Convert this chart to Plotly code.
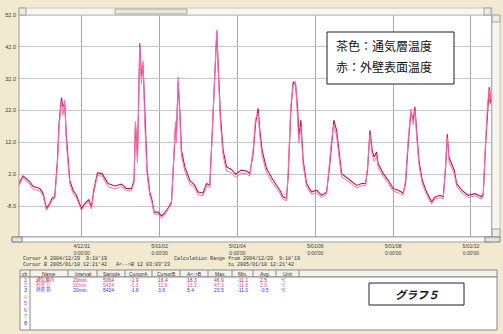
import plotly.graph_objects as go

# ---------------- data ----------------
times = [
"2004-12-29 09:18","2004-12-29 11:47","2004-12-29 15:55","2004-12-29 17:57","2004-12-29 22:05",
"2004-12-30 00:07","2004-12-30 02:14","2004-12-30 04:15","2004-12-30 05:41","2004-12-30 07:20",
"2004-12-30 09:00","2004-12-30 09:59","2004-12-30 11:28","2004-12-30 12:27","2004-12-30 13:30",
"2004-12-30 14:34","2004-12-30 16:36","2004-12-30 18:38","2004-12-30 20:43","2004-12-30 23:49",
"2004-12-31 01:51","2004-12-31 04:19","2004-12-31 05:59","2004-12-31 07:24","2004-12-31 09:41",
"2004-12-31 12:32","2004-12-31 16:14","2004-12-31 20:21","2005-01-01 00:30","2005-01-01 03:35",
"2005-01-01 06:40","2005-01-01 08:15","2005-01-01 09:07","2005-01-01 10:22","2005-01-01 11:47",
"2005-01-01 12:50","2005-01-01 13:49","2005-01-01 14:53","2005-01-01 16:18","2005-01-01 17:57",
"2005-01-01 19:22","2005-01-01 20:37","2005-01-01 23:04","2005-01-02 01:10","2005-01-02 02:47",
"2005-01-02 05:41","2005-01-02 07:20","2005-01-02 08:57","2005-01-02 09:49","2005-01-02 10:25",
"2005-01-02 11:25","2005-01-02 12:28","2005-01-02 13:31","2005-01-02 15:33","2005-01-02 18:38",
"2005-01-02 21:43","2005-01-02 23:45","2005-01-03 02:50","2005-01-03 04:56","2005-01-03 06:58",
"2005-01-03 08:24","2005-01-03 10:03","2005-01-03 11:17","2005-01-03 12:06","2005-01-03 13:35",
"2005-01-03 15:10","2005-01-03 17:17","2005-01-03 20:21","2005-01-03 22:49","2005-01-04 02:31",
"2005-01-04 05:37","2005-01-04 07:39","2005-01-04 09:42","2005-01-04 11:10","2005-01-04 12:46",
"2005-01-04 13:49","2005-01-04 15:14","2005-01-04 17:57","2005-01-04 22:02","2005-01-05 02:10",
"2005-01-05 04:12","2005-01-05 06:17","2005-01-05 07:16","2005-01-05 08:57","2005-01-05 10:22",
"2005-01-05 11:51","2005-01-05 13:05","2005-01-05 13:52","2005-01-05 15:07","2005-01-05 16:32",
"2005-01-05 18:38","2005-01-05 21:43","2005-01-06 00:48","2005-01-06 03:53","2005-01-06 06:58",
"2005-01-06 09:00","2005-01-06 10:03","2005-01-06 11:28","2005-01-06 13:09","2005-01-06 14:34",
"2005-01-06 16:14","2005-01-06 20:18","2005-01-07 01:29","2005-01-07 04:34","2005-01-07 07:02",
"2005-01-07 08:15","2005-01-07 09:42","2005-01-07 11:07","2005-01-07 12:20","2005-01-07 13:49",
"2005-01-07 14:48","2005-01-07 17:54","2005-01-07 20:59","2005-01-08 00:04","2005-01-08 03:09",
"2005-01-08 06:14","2005-01-08 07:42","2005-01-08 09:19","2005-01-08 10:59","2005-01-08 12:24",
"2005-01-08 13:26","2005-01-08 14:30","2005-01-08 15:55","2005-01-08 17:57","2005-01-08 20:40",
"2005-01-08 23:45","2005-01-09 01:48","2005-01-09 04:52","2005-01-09 06:55","2005-01-09 08:24",
"2005-01-09 09:23","2005-01-09 10:25","2005-01-09 12:06","2005-01-09 13:42","2005-01-09 15:10",
"2005-01-09 18:16","2005-01-09 22:20","2005-01-10 02:28","2005-01-10 06:36","2005-01-10 07:35",
"2005-01-10 09:04","2005-01-10 10:18","2005-01-10 11:17","2005-01-10 11:54","2005-01-10 12:21",
]

air_layer = [  # 茶色：通気層温度
-0.9,1.5,-0.4,-1.8,-2.5,
-3.9,-8.7,-7.2,-5.5,-5.1,
6.4,17.9,26.1,23.2,24.2,
13.7,0.1,-3.0,-4.6,-8.8,
-7.2,-6.0,-8.3,-3.0,2.4,
2.2,-0.9,-1.7,-1.1,-2.5,
-2.5,0.1,17.9,7.4,43.1,
32.6,36.3,20.0,3.3,-3.6,
-6.2,-9.9,-9.9,-11.1,-10.4,
-8.3,-6.7,8.5,16.9,14.8,
31.0,22.1,9.5,4.3,0.1,
-1.5,-3.6,-3.9,-0.9,-1.5,
13.7,32.6,46.9,36.8,20.0,
9.5,4.3,3.5,2.0,3.3,
3.0,2.2,8.5,17.9,22.7,
15.8,9.5,3.8,0.1,-3.0,
-5.1,-5.6,1.2,22.1,31.0,
30.0,23.2,13.7,19.0,6.4,
-0.9,-3.6,-3.0,-4.6,-3.6,
5.3,11.6,19.0,15.8,9.5,
2.2,0.6,-1.5,-0.9,-0.9,
3.3,15.8,9.5,7.4,9.0,
5.3,2.2,0.1,-2.5,-3.0,
-3.9,-0.9,11.6,21.6,19.0,
23.2,15.8,6.4,0.1,-3.6,
-6.7,-5.1,-4.6,-5.1,4.3,
14.6,7.4,5.3,3.3,-0.9,
-3.0,-4.6,-4.1,-5.1,-4.1,
11.6,23.2,29.4,24.2,27.5,
]

wall_surface = [  # 赤：外壁表面温度
-1.6,0.8,-1.2,-2.6,-3.3,
-4.6,-9.3,-7.8,-6.1,-5.6,
5.0,16.5,25.0,20.5,25.2,
11.5,-1.0,-4.0,-5.4,-9.4,
-7.8,-6.7,-8.9,-3.9,1.6,
1.4,-1.9,-2.6,-1.9,-3.2,
-3.2,-0.6,18.6,5.5,42.0,
30.5,37.5,17.8,1.8,-4.6,
-7.0,-10.5,-10.6,-11.8,-11.0,
-8.9,-7.3,9.8,18.5,12.0,
32.5,20.0,7.6,3.0,-1.0,
-2.4,-4.4,-4.7,-1.6,-2.2,
15.0,34.0,47.3,35.0,17.5,
7.8,3.0,2.4,1.0,2.4,
2.1,1.4,9.8,19.5,21.2,
13.8,7.8,2.5,-1.0,-4.0,
-5.9,-6.3,2.5,23.5,30.0,
31.2,21.0,11.8,17.0,4.8,
-1.9,-4.4,-3.8,-5.3,-4.3,
6.5,12.8,17.5,14.0,7.8,
1.2,-0.3,-2.3,-1.6,-1.6,
4.5,14.5,8.0,6.0,7.6,
4.0,1.2,-0.8,-3.3,-3.8,
-4.6,0.4,13.0,22.5,17.5,
22.0,14.0,5.0,-0.9,-4.4,
-7.4,-5.8,-5.3,-5.8,5.5,
13.5,6.0,4.2,2.2,-1.8,
-3.8,-5.3,-4.8,-5.8,-4.8,
13.0,24.5,28.5,25.5,28.8,
]

x_start = "2004-12-29 09:18:19"
x_end = "2005-01-10 12:21:42"
x_tick_vals = ["2004-12-31","2005-01-02","2005-01-04","2005-01-06","2005-01-08","2005-01-10"]
x_tick_text = ["4/12/31<br>0:00'00","5/01/02<br>0:00'00","5/01/04<br>0:00'00",
               "5/01/06<br>0:00'00","5/01/08<br>0:00'00","5/01/10<br>0:00'00"]
y_tick_vals = [-8, 2, 12, 22, 32, 42, 52]
y_tick_text = ["-8.0", "2.0", "12.0", "22.0", "32.0", "42.0", "52.0"]

legend_lines = ["茶色：通気層温度", "赤：外壁表面温度"]
graph_title = "グラフ５"

table_headers = ["ch","Name","Interval","Sample","CursorA","CursorB","A<->B","Max.","Min.","Avg.","Unit"]
table_rows = [
    ["通気層内", "20min.", "5064", "-1.9", "16.4", "18.3", "46.9", "-11.1", "2.5", "℃"],
    ["外壁 日",  "20min.", "5424", "-1.3", "11.9", "13.2", "47.3", "-11.8", "2.0", "℃"],
    ["外壁 影",  "20min.", "5424", "-1.8", "3.6",  "5.4",  "23.5", "-11.0", "-0.5", "℃"],
]
ch_labels = ["1","2","3","4","5","6","7","8"]

# ---------------- layout helpers ----------------
W, H = 503, 334
def px(x): return x / W
def py(y): return 1 - y / H

BG = "#f1ead0"
DARK = "#c3124d"
PINK = "#ff6db3"
ch_colors = ["#a8303c","#ff3c96","#3434ff","#ff9a00","#ff30c0","#ff4060","#20a020","#3030ff"]

fig = go.Figure()
fig.add_trace(go.Scatter(x=times, y=air_layer, mode="lines",
                         line=dict(color=DARK, width=1.1), showlegend=False))
fig.add_trace(go.Scatter(x=times, y=wall_surface, mode="lines",
                         line=dict(color=PINK, width=1.0), showlegend=False))

tick_font = dict(family="Liberation Sans", size=5, color="#383838")
fig.update_layout(
    width=W, height=H, margin=dict(l=0, r=0, t=0, b=0),
    paper_bgcolor=BG, plot_bgcolor="white", showlegend=False,
    xaxis=dict(type="date", range=[x_start, x_end], domain=[px(19), px(491)],
               tickvals=x_tick_vals, ticktext=x_tick_text, showgrid=True,
               gridcolor="#a8a8a8", gridwidth=1, zeroline=False, showline=False,
               ticks="", tickfont=tick_font, ticklabelstandoff=5, automargin=False),
    yaxis=dict(range=[-17.7, 52], domain=[py(237), py(15)],
               tickvals=y_tick_vals, ticktext=y_tick_text, showgrid=True,
               gridcolor="#c4c4c4", gridwidth=1.3, zeroline=False, showline=False,
               ticks="", tickfont=dict(family="Liberation Sans", size=5.5, color="#383838"),
               ticklabelstandoff=2, automargin=False),
)

shapes = []
def rect(x0, y0, x1, y1, fill, line="#909090", lw=1, layer="above"):
    shapes.append(dict(type="rect", xref="paper", yref="paper",
                       x0=px(x0), x1=px(x1), y0=py(y1), y1=py(y0),
                       fillcolor=fill, line=dict(color=line, width=lw), layer=layer))
def vline(x, y0, y1, color="#909090", lw=1):
    shapes.append(dict(type="line", xref="paper", yref="paper",
                       x0=px(x), x1=px(x), y0=py(y0), y1=py(y1),
                       line=dict(color=color, width=lw), layer="above"))

# plot frame
rect(19, 15, 491.5, 237, "rgba(0,0,0,0)", line="#9a9a9a", lw=1)
# top scrollbar
rect(19, 8, 492, 15, "#f6f5f0", line="#c8c6bc")
rect(115, 9, 187, 14, "#ebe8da", line="#a8a69c")
rect(19, 8, 26, 15, "#ecebe4", line="#a0a0a0")
rect(484, 8, 491, 15, "#ecebe4", line="#a0a0a0")
# right scrollbar
rect(492, 15, 500, 237, "#f6f5f0", line="#c8c6bc")
rect(492, 15, 500, 22, "#ecebe4", line="#a0a0a0")
rect(492, 229, 500, 237, "#ecebe4", line="#a0a0a0")
# bottom scrollbar
rect(12, 237, 492, 242, "#ffffff", line="#a0a0a0")
rect(12, 237, 22, 242, "#e4e2d8", line="#808080")
rect(485, 237, 500, 242, "#e4e2d8", line="#808080")

# legend box
rect(327, 32, 454, 84, "white", line="#202020", lw=1)

# table
rect(20, 270, 497, 277, "#f3f2ec", line="#8a8a8a")
rect(20, 277, 497, 330, "white", line="#8a8a8a")
col_edges = [20, 30, 68, 97, 125, 152, 180, 208, 232, 253, 276, 299]
for xe in col_edges[1:]:
    vline(xe, 270, 277, color="#8a8a8a")
vline(30, 277, 330, color="#8a8a8a")
# graph title box
rect(369, 283, 464, 305, "white", line="#202020", lw=1)

fig.update_layout(shapes=shapes)

ann = []
small = dict(family="Liberation Sans", size=5, color="#303030")
mono = dict(family="Liberation Mono", size=5, color="#303030")
def txt(x, y, s, font=small, xanchor="left"):
    ann.append(dict(x=px(x), y=py(y), xref="paper", yref="paper", text=s,
                    showarrow=False, xanchor=xanchor, yanchor="middle", font=font))

txt(21, 259, "Cursor A 2004/12/29  9:18'19", font=mono)
txt(21, 264.5, "Cursor B 2005/01/10 12:21'42   A<-->B 12 03:03'23", font=mono)
txt(172, 259, "Calculation Range from 2004/12/29  9:18'19", font=mono)
txt(296, 264.5, "to 2005/01/10 12:21'42", font=mono, xanchor="right")

for i, h in enumerate(table_headers):
    cx = (col_edges[i] + col_edges[i + 1]) / 2
    txt(cx, 273.5, h, xanchor="center")

row_y = [279.5, 284.5, 289.5, 297, 303.2, 309.5, 316, 322.5]
for i, c in enumerate(ch_labels):
    txt(25, row_y[i], c, font=dict(family="Liberation Sans", size=5.5, color=ch_colors[i]), xanchor="center")

cell_x = [34, 71, 101, 128, 156, 185, 212, 235, 258, 279]
for r, row in enumerate(table_rows):
    f = dict(family="Liberation Sans", size=5, color=ch_colors[r])
    for j, v in enumerate(row):
        if j == 0:
            ff = dict(family="Noto Sans CJK JP", size=4.6, color=ch_colors[r])
        else:
            ff = f
        txt(cell_x[j], row_y[r], v, font=ff)

cjk = dict(family="Noto Sans CJK JP", size=12, color="#111111")
txt(334, 46, legend_lines[0], font=cjk)
txt(334, 67, legend_lines[1], font=cjk)
txt(416.5, 294, "<b><i>" + graph_title + "</i></b>",
    font=dict(family="Noto Sans CJK JP", size=11, color="#111111"), xanchor="center")

fig.update_layout(annotations=ann)
fig.write_html("out.html")
